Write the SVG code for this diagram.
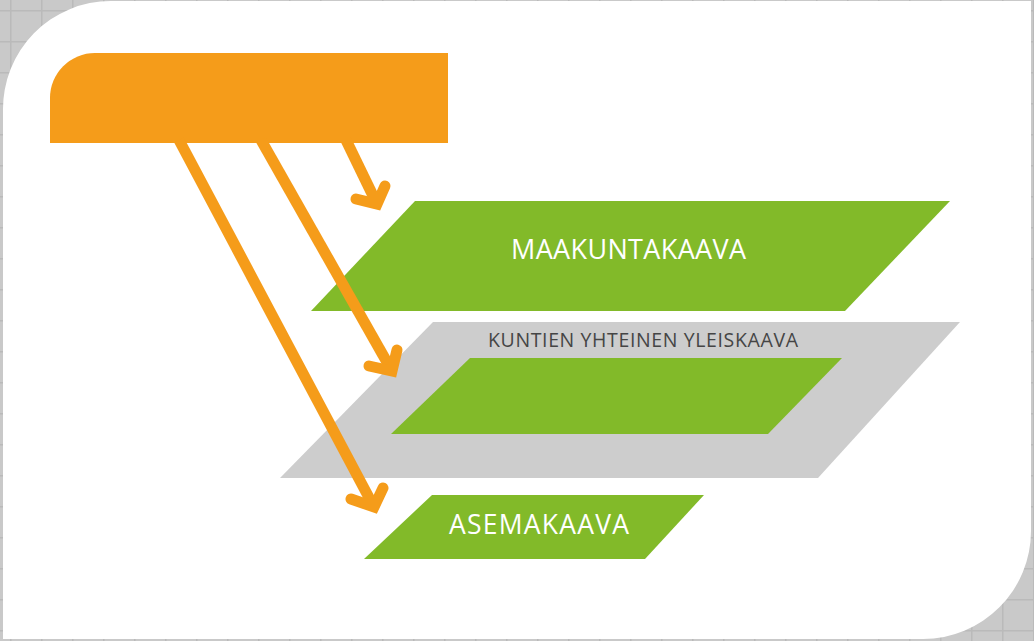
<svg xmlns="http://www.w3.org/2000/svg" width="1034" height="641" viewBox="0 0 1034 641">
  <style>
    .green { fill: #82ba29; }
    .gray { fill: #cdcdcd; }
    .arrow { fill: none; stroke: #f59c1a; stroke-width: 11; }
    .head { fill: none; stroke: #f59c1a; stroke-width: 11; stroke-linejoin: miter; stroke-linecap: round; stroke-miterlimit: 10; }
    .lbl { font-family: "Open Sans", "Liberation Sans", sans-serif; fill: #ffffff; text-anchor: middle; }
    .lbl-dark { font-family: "Open Sans", "Liberation Sans", sans-serif; fill: #454545; text-anchor: middle; }
  </style>
  <defs>
    <pattern id="grid" width="31" height="31" patternUnits="userSpaceOnUse" x="10" y="10">
      <rect width="31" height="31" fill="#c9c9c9"/>
      <path d="M0,0.5 H31 M0.5,0 V31" stroke="#bababa" stroke-width="2" fill="none"/>
    </pattern>
  </defs>
  <rect x="0" y="0" width="1034" height="641" fill="url(#grid)"/>
  <path id="card" d="M3,111 A108,108 0 0 1 111,1 H1031 V531 A108,108 0 0 1 923,639 H3 Z" fill="#ffffff"/>

  <g id="source">
    <path d="M50,98 A45,45 0 0 1 95,53 H448 V143 H50 Z" fill="#f59c1a"/>
  </g>

  <g id="maakuntakaava">
    <polygon class="green" points="415,201 950,201 845,311 311,311"/>
    <text class="lbl" x="628.5" y="258.5" font-size="27" textLength="235" lengthAdjust="spacing">MAAKUNTAKAAVA</text>
  </g>

  <g id="kuntien-yhteinen-yleiskaava">
    <polygon class="gray" points="433,322 960,322 818,478 280,478"/>
    <text class="lbl-dark" x="643" y="346.5" font-size="19.5" textLength="310" lengthAdjust="spacing">KUNTIEN YHTEINEN YLEISKAAVA</text>
    <polygon class="green" points="470,358 842,358 768,434 391,434"/>
  </g>

  <g id="asemakaava">
    <polygon class="green" points="432,495 704,495 645,559 364,559"/>
    <text class="lbl" x="539" y="533.5" font-size="26.5" textLength="180" lengthAdjust="spacing">ASEMAKAAVA</text>
  </g>

  <g id="connectors">
    <line class="arrow" x1="346" y1="140" x2="377" y2="204"/>
    <polyline class="head" points="385,186 377,204 356,199"/>
    <line class="arrow" x1="261" y1="140" x2="392" y2="371"/>
    <polyline class="head" points="397,350 392,371 369,366"/>
    <line class="arrow" x1="179" y1="140" x2="374" y2="507"/>
    <polyline class="head" points="383,488 374,507 351,499"/>
  </g>
</svg>
